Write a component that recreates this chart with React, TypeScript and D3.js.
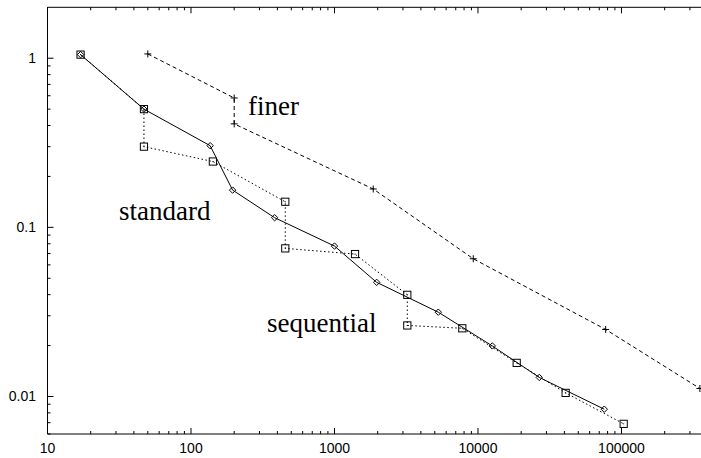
import { useEffect, useRef } from "react"
import * as d3 from "d3"

// solid line, diamonds
const standardX = [17, 47, 136, 195, 383, 1000, 1968, 5289, 12580, 26740, 75860]
const standardY = [1.05, 0.5, 0.304, 0.166, 0.114, 0.0775, 0.0473, 0.0315, 0.0199, 0.01296, 0.00841]

// dotted line, squares
const sequentialX = [17, 47, 47, 142, 454, 454, 1390, 3217, 3217, 7776, 18610, 40830, 103600]
const sequentialY = [1.05, 0.5, 0.3, 0.245, 0.1417, 0.0751, 0.0695, 0.0399, 0.0263, 0.0253, 0.0158, 0.0105, 0.00689]

// dashed line, plus marks
const finerX = [50, 200, 200, 1862, 9270, 77600, 352000]
const finerY = [1.06, 0.582, 0.409, 0.1686, 0.0652, 0.0249, 0.01115]

const xMajor = [10, 100, 1000, 10000, 100000]
const xMajorLabels = ["10", "100", "1000", "10000", "100000"]
const yMajor = [1, 0.1, 0.01]
const yMajorLabels = ["1", "0.1", "0.01"]

// curve labels, anchored in data coordinates (left end of the baseline)
const labels = [
  { text: "finer", x: 250, y: 0.462 },
  { text: "standard", x: 31.5, y: 0.1106 },
  { text: "sequential", x: 339, y: 0.02406 },
]

export default function App() {
  const svgRef = useRef<SVGSVGElement>(null)

  useEffect(() => {
    if (!svgRef.current) return
    const svg = d3.select(svgRef.current)
    svg.selectAll("*").remove()

    const width = 701
    const height = 458
    const margin = { top: 7.3, left: 47.5, bottom: 24 }

    const x = d3.scaleLog().domain([10, 360000]).range([margin.left, 701.3])
    const y = d3.scaleLog().domain([0.006, 2]).range([height - margin.bottom, margin.top])

    const x0 = margin.left
    const x1 = width + 2
    const yTop = margin.top
    const yBot = height - margin.bottom

    // minor ticks
    const xMinor: number[] = []
    for (let e = 1; e <= 5; e++) for (let m = 2; m <= 9; m++) {
      const v = m * Math.pow(10, e)
      if (v < 360000) xMinor.push(v)
    }
    const yMinor: number[] = []
    for (let e = -3; e <= 0; e++) for (let m = 2; m <= 9; m++) {
      const v = m * Math.pow(10, e)
      if (v >= 0.006 && v < 2) yMinor.push(v)
    }

    const axis = svg.append("g").attr("stroke", "#000").attr("stroke-width", 1).attr("fill", "none")
    axis.append("path").attr("d", `M${x0},${yBot}V${yTop}H${x1}M${x0},${yBot}H${x1}`)

    xMinor.forEach((v) => {
      axis.append("line").attr("x1", x(v)).attr("x2", x(v)).attr("y1", yBot).attr("y2", yBot - 3)
      axis.append("line").attr("x1", x(v)).attr("x2", x(v)).attr("y1", yTop).attr("y2", yTop + 3)
    })
    xMajor.forEach((v) => {
      axis.append("line").attr("x1", x(v)).attr("x2", x(v)).attr("y1", yBot).attr("y2", yBot - 6)
      axis.append("line").attr("x1", x(v)).attr("x2", x(v)).attr("y1", yTop).attr("y2", yTop + 6)
    })
    yMinor.forEach((v) => {
      axis.append("line").attr("x1", x0).attr("x2", x0 + 3).attr("y1", y(v)).attr("y2", y(v))
    })
    yMajor.forEach((v) => {
      axis.append("line").attr("x1", x0).attr("x2", x0 + 6).attr("y1", y(v)).attr("y2", y(v))
    })

    const tickFont = "'Liberation Sans', Arial, sans-serif"
    svg.append("g")
      .selectAll("text")
      .data(xMajor)
      .enter()
      .append("text")
      .attr("x", (d) => x(d))
      .attr("y", 452.5)
      .attr("text-anchor", "middle")
      .attr("font-family", tickFont)
      .attr("font-size", 14)
      .text((d, i) => xMajorLabels[i])

    svg.append("g")
      .selectAll("text")
      .data(yMajor)
      .enter()
      .append("text")
      .attr("x", 36)
      .attr("y", (d) => y(d) + 5)
      .attr("text-anchor", "end")
      .attr("font-family", tickFont)
      .attr("font-size", 14)
      .text((d, i) => yMajorLabels[i])

    const line = d3.line<[number, number]>().x((d) => x(d[0])).y((d) => y(d[1]))
    const zip = (xs: number[], ys: number[]) => xs.map((v, i) => [v, ys[i]] as [number, number])

    const standard = zip(standardX, standardY)
    const sequential = zip(sequentialX, sequentialY)
    const finer = zip(finerX, finerY)

    svg.append("path").attr("d", line(sequential)).attr("fill", "none").attr("stroke", "#000")
      .attr("stroke-width", 1).attr("stroke-dasharray", "1.5,2.5")
    svg.append("path").attr("d", line(finer)).attr("fill", "none").attr("stroke", "#000")
      .attr("stroke-width", 1).attr("stroke-dasharray", "4,3")
    svg.append("path").attr("d", line(standard)).attr("fill", "none").attr("stroke", "#000")
      .attr("stroke-width", 1)

    // diamonds
    svg.append("g")
      .selectAll("path")
      .data(standard)
      .enter()
      .append("path")
      .attr("d", (d) => {
        const cx = x(d[0]), cy = y(d[1]), r = 3.2
        return `M${cx},${cy - r}L${cx + r},${cy}L${cx},${cy + r}L${cx - r},${cy}Z`
      })
      .attr("fill", "none")
      .attr("stroke", "#000")
      .attr("stroke-width", 1)

    // squares with center dot
    const sq = svg.append("g").attr("stroke", "#000").attr("fill", "none").attr("stroke-width", 1)
    sequential.forEach((d) => {
      const cx = x(d[0]), cy = y(d[1]), r = 3.6
      sq.append("rect").attr("x", cx - r).attr("y", cy - r).attr("width", 2 * r).attr("height", 2 * r)
      sq.append("rect").attr("x", cx - 0.5).attr("y", cy - 0.5).attr("width", 1).attr("height", 1)
        .attr("fill", "#000").attr("stroke", "none")
    })

    // plus marks
    const pl = svg.append("g").attr("stroke", "#000").attr("stroke-width", 1)
    finer.forEach((d) => {
      const cx = x(d[0]), cy = y(d[1]), r = 3.5
      pl.append("path").attr("d", `M${cx - r},${cy}H${cx + r}M${cx},${cy - r}V${cy + r}`)
    })

    svg.append("g")
      .selectAll("text")
      .data(labels)
      .enter()
      .append("text")
      .attr("x", (d) => x(d.x))
      .attr("y", (d) => y(d.y))
      .attr("font-family", "'Liberation Serif', 'Times New Roman', serif")
      .attr("font-size", 27)
      .text((d) => d.text)
  }, [])

  return (
    <div style={{ position: "absolute", left: 0, top: 0 }}>
      <svg ref={svgRef} width={701} height={458} style={{ display: "block", background: "#fff" }} />
    </div>
  )
}
